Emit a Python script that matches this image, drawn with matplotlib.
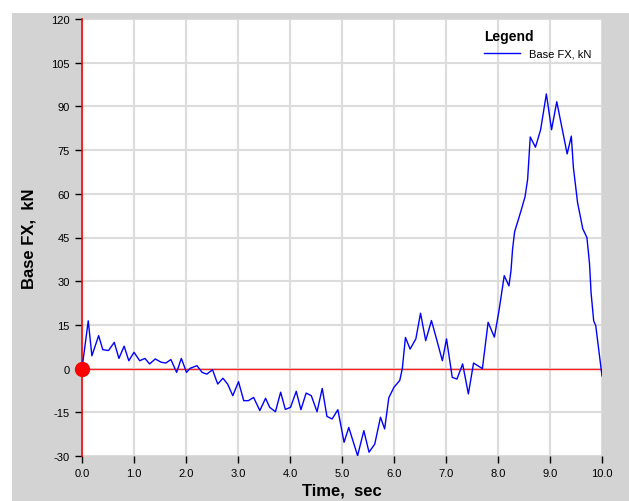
import matplotlib
matplotlib.use("Agg")
import matplotlib.pyplot as plt
from matplotlib.patches import Rectangle

plt.rcParams['font.family'] = ['Liberation Sans', 'DejaVu Sans']
plt.rcParams['axes.unicode_minus'] = False

# time history
time_s = [0.0, 0.12, 0.19, 0.32, 0.40, 0.51, 0.62, 0.71, 0.81, 0.90,
          1.00, 1.11, 1.21, 1.30, 1.41, 1.52, 1.61, 1.71, 1.82, 1.91,
          2.01, 2.08, 2.21, 2.31, 2.40, 2.51, 2.61, 2.71, 2.80, 2.90,
          3.01, 3.11, 3.20, 3.30, 3.42, 3.53, 3.61, 3.72, 3.82, 3.91,
          4.01, 4.12, 4.21, 4.31, 4.41, 4.52, 4.62, 4.71, 4.81, 4.92,
          5.04, 5.13, 5.30, 5.42, 5.52, 5.63, 5.74, 5.82, 5.90, 6.00,
          6.11, 6.16, 6.22, 6.31, 6.42, 6.51, 6.61, 6.72, 6.82, 6.93,
          7.01, 7.12, 7.21, 7.32, 7.43, 7.53, 7.70, 7.81, 7.93, 8.02,
          8.12, 8.21, 8.25, 8.28, 8.32, 8.44, 8.52, 8.57, 8.62, 8.72,
          8.82, 8.93, 9.03, 9.13, 9.33, 9.41, 9.45, 9.53, 9.63, 9.71,
          9.76, 9.79, 9.84, 9.88, 10.0]
base_fx = [0.0, 16.4, 4.4, 11.3, 6.5, 6.2, 9.0, 3.5, 7.7, 2.7,
           5.6, 2.7, 3.5, 1.6, 3.3, 2.2, 1.9, 3.1, -1.3, 3.5,
           -1.3, 0.1, 1.0, -1.3, -1.9, -0.4, -5.3, -3.3, -5.3, -9.3,
           -4.5, -11.0, -11.0, -9.9, -14.4, -10.2, -13.3, -14.8, -8.1, -14.0,
           -13.3, -7.8, -14.1, -8.4, -9.3, -14.8, -6.8, -16.4, -17.3, -14.1,
           -25.3, -20.2, -29.9, -21.3, -28.7, -25.9, -16.7, -20.7, -10.0, -6.4,
           -4.1, 0.0, 10.7, 6.7, 10.2, 19.0, 9.6, 16.5, 10.0, 2.7,
           10.2, -3.0, -3.6, 1.6, -8.7, 1.9, 0.0, 15.9, 10.8, 20.0,
           31.9, 28.4, 33.6, 41.0, 47.0, 54.0, 59.0, 65.0, 79.5, 76.0,
           82.0, 94.3, 82.0, 91.6, 73.7, 79.8, 69.0, 57.0, 48.0, 45.0,
           36.0, 26.0, 16.4, 14.7, -2.5]

x_ticks = [0, 1, 2, 3, 4, 5, 6, 7, 8, 9, 10]
y_ticks = [-30, -15, 0, 15, 30, 45, 60, 75, 90, 105, 120]

fig = plt.figure(figsize=(6.29, 5.02), dpi=100, facecolor='white')
# grey panel behind the plot
panel = Rectangle((12 / 629, 0), 1, 1 - 14 / 502, transform=fig.transFigure,
                  facecolor='#d3d3d3', edgecolor='none', zorder=-10)
fig.add_artist(panel)

ax = fig.add_axes([82 / 629, 1 - 457 / 502, 520 / 629, 437 / 502])
ax.set_zorder(1)
ax.set_facecolor('white')

ax.plot(time_s, base_fx, color='#0000ff', lw=1.0, label='Base FX, kN', zorder=3)
ax.axhline(0, color='#ff2020', lw=1.0, zorder=2)
ax.plot([0], [0], 'o', color='#ff0000', ms=10, clip_on=False, zorder=5)

ax.set_xlim(0, 10)
ax.set_ylim(-30, 120)
ax.set_xticks(x_ticks)
ax.set_xticklabels([f"{t:.1f}" for t in x_ticks])
ax.set_yticks(y_ticks)
ax.grid(True, color='#dcdcdc', lw=1.5, zorder=0)
ax.set_axisbelow(True)

for s in ['top', 'right', 'bottom']:
    ax.spines[s].set_visible(False)
ax.spines['left'].set_color('#ff0000')
ax.spines['left'].set_linewidth(1.2)
ax.tick_params(axis='both', labelsize=8, length=5, width=1, color='black', pad=4)

ax.set_xlabel('Time,  sec', fontsize=12, fontweight='bold', labelpad=3)
ax.set_ylabel('Base FX,  kN', fontsize=12, fontweight='bold', labelpad=10)

leg = ax.legend(title='Legend', loc='upper right', bbox_to_anchor=(0.998, 1.0),
                frameon=False, fontsize=8, handlelength=3.2, title_fontsize=10,
                alignment='left')
leg.get_title().set_fontweight('bold')

fig.savefig('out.png', dpi=100)
